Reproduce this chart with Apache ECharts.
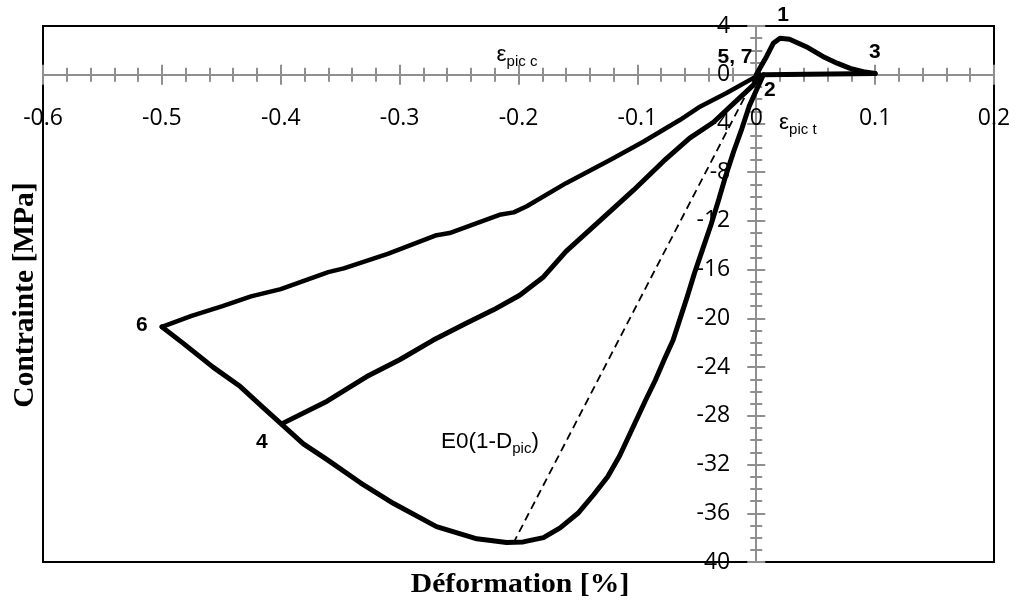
<!DOCTYPE html>
<html><head><meta charset="utf-8">
<script src="https://cdn.jsdelivr.net/npm/echarts@6/dist/echarts.min.js"></script>
<style>html,body{margin:0;padding:0;background:#fff}#c{width:1016px;height:603px}</style>
</head><body><div id="c"></div>
<script>
// Tension branch: origin -> peak (1) -> point 3
const tensionCurve = [[0,0],[0.004,0.7],[0.0087,1.5],[0.0143,2.58],[0.02,2.99],[0.028,2.92],[0.042,2.3],[0.056,1.5],[0.068,0.95],[0.079,0.52],[0.09,0.25],[0.1,0.1]];
// Unloading 3 -> 2 along zero stress
const crackClosing = [[0.1,0.1],[0.1,0],[0.006,0]];
// Compression envelope: 2 -> peak -> 4 -> 6
const compressionEnvelope = [[0.006,0],[0.0,-1.3],[-0.006,-2.6],[-0.012,-4.4],[-0.019,-6.3],[-0.026,-8.4],[-0.032,-10.4],[-0.038,-12.3],[-0.045,-14.3],[-0.052,-16.3],[-0.058,-18.2],[-0.064,-20.0],[-0.070,-21.8],[-0.077,-23.3],[-0.085,-25.1],[-0.093,-26.7],[-0.1035,-28.9],[-0.115,-31.3],[-0.125,-33.0],[-0.137,-34.5],[-0.150,-36.0],[-0.165,-37.2],[-0.179,-38.0],[-0.196,-38.35],[-0.21,-38.4],[-0.235,-38.1],[-0.269,-37.1],[-0.305,-35.2],[-0.333,-33.5],[-0.361,-31.6],[-0.381,-30.3],[-0.398,-28.8],[-0.415,-27.3],[-0.434,-25.6],[-0.457,-24.0],[-0.482,-22.05],[-0.50,-20.7]];
// Unloading 4 -> 5
const unloading4 = [[-0.398,-28.6],[-0.361,-26.8],[-0.328,-24.8],[-0.30,-23.4],[-0.272,-21.8],[-0.244,-20.4],[-0.221,-19.3],[-0.199,-18.1],[-0.179,-16.6],[-0.16,-14.5],[-0.134,-12.2],[-0.1035,-9.5],[-0.078,-7.1],[-0.056,-5.2],[-0.036,-3.9],[-0.019,-2.35],[-0.0025,-0.85],[0.003,0]];
// Unloading 6 -> 7
const unloading6 = [[-0.50,-20.7],[-0.475,-19.8],[-0.449,-19.0],[-0.425,-18.2],[-0.40,-17.6],[-0.36,-16.2],[-0.347,-15.9],[-0.31,-14.7],[-0.27,-13.2],[-0.258,-13.0],[-0.216,-11.5],[-0.204,-11.3],[-0.193,-10.8],[-0.16,-8.9],[-0.123,-7.0],[-0.095,-5.5],[-0.064,-3.7],[-0.047,-2.6],[-0.025,-1.5],[-0.003,-0.3],[0.003,0]];
// Secant modulus E0(1-Dpic)
const secantLine = [[0,0],[-0.203,-38.2]];
// Point labels [x, y, text]
const pointLabels = [[0.0225,4.9,'1'],[0.0998,1.86,'3'],[-0.0179,1.45,'5, 7'],[0.0115,-1.26,'2'],[-0.5168,-20.55,'6'],[-0.4159,-30.15,'4']];
// Text annotations [x, y, rich text]
const textLabels = [[-0.2013,1.62,'{a|ε}{b|pic c}'],[0.035,-3.97,'{a|ε}{b|pic t}'],[-0.224,-30.15,'{a|E0(1-D}{b|pic}{a|)}']];
const xTitle = 'Déformation [%]';
const yTitle = 'Contrainte [MPa]';

const chart = echarts.init(document.getElementById('c'), null, {renderer:'canvas'});
const gray = '#8f8f8f';
const tickFont = {fontFamily:'Open Sans', fontSize:23, color:'#000'};
const xBase = {type:'value', min:-0.6, max:0.2, interval:0.1, splitLine:{show:false}};
const yBase = {type:'value', min:-40, max:4, interval:4, splitLine:{show:false}};
const xTickAxis = Object.assign({}, xBase, {
  axisLine:{onZero:true, onZeroAxisIndex:0, lineStyle:{color:gray, width:2}},
  axisLabel:{show:false},
  minorTick:{show:true, splitNumber:5, length:7, lineStyle:{color:gray, width:2}},
  axisTick:{length:10, lineStyle:{color:gray, width:2}}});
const yTickAxis = Object.assign({}, yBase, {
  axisLine:{onZero:true, onZeroAxisIndex:0, lineStyle:{color:gray, width:2}},
  axisLabel:{show:false},
  minorTick:{show:true, splitNumber:4, length:6, lineStyle:{color:gray, width:2}},
  axisTick:{length:9, lineStyle:{color:gray, width:2}}});
const lineSeries = (data, w) => ({type:'line', data, showSymbol:false, symbol:'none', smooth:false, z:5,
  lineStyle:{color:'#000', width:w, cap:'round', join:'round'}, xAxisIndex:0, yAxisIndex:0, silent:true});

const option = {
  animation:false,
  backgroundColor:'#fff',
  grid:{left:43, right:22, top:26, bottom:41, outerBoundsMode:'none', containLabel:false, show:true, borderColor:'#000', borderWidth:2, backgroundColor:'transparent'},
  xAxis:[
    Object.assign({}, xTickAxis, {position:'bottom'}),
    Object.assign({}, xTickAxis, {position:'top'}),
    Object.assign({}, xBase, {position:'bottom', offset:0, axisLine:{show:false, onZero:false}, axisTick:{show:false},
      axisLabel:Object.assign({margin:32, showMinLabel:true, showMaxLabel:true}, tickFont)})
  ],
  yAxis:[
    Object.assign({}, yTickAxis, {position:'left'}),
    Object.assign({}, yTickAxis, {position:'right'}),
    Object.assign({}, yBase, {position:'left', offset:0, axisLine:{show:false, onZero:false}, axisTick:{show:false},
      axisLabel:Object.assign({margin:26, showMinLabel:true, showMaxLabel:true}, tickFont)})
  ],
  series:[
    lineSeries(tensionCurve, 5),
    lineSeries(crackClosing, 5),
    lineSeries(compressionEnvelope, 5),
    lineSeries(unloading4, 5),
    lineSeries(unloading6, 4.5),
    {type:'line', data:secantLine, showSymbol:false, symbol:'none', z:4, silent:true,
      lineStyle:{color:'#000', width:1.8, type:[8,5]}},
    {type:'scatter', clip:false, symbolSize:0, silent:true, z:10, itemStyle:{color:'#000', opacity:1},
      data:pointLabels.map(p => ({value:[p[0],p[1]], name:p[2]})),
      label:{show:true, position:'inside', formatter:'{b}', fontFamily:'Liberation Sans', fontWeight:'bold', fontSize:21,
        color:'#000', opacity:1, textBorderWidth:0, textBorderColor:'transparent'}},
    {type:'scatter', clip:false, symbolSize:0, silent:true, z:10, itemStyle:{color:'#000', opacity:1},
      data:textLabels.map(p => ({value:[p[0],p[1]], name:p[2]})),
      label:{show:true, position:'inside', formatter:'{b}', color:'#000', opacity:1, textBorderWidth:0, textBorderColor:'transparent',
        rich:{a:{fontFamily:'Liberation Sans', fontSize:22.5, lineHeight:28, color:'#000', textBorderWidth:0},
              b:{fontFamily:'Liberation Sans', fontSize:15, verticalAlign:'bottom', color:'#000', textBorderWidth:0}}}}
  ],
  graphic:[
    {type:'text', x:520, y:585, scaleX:1.1, style:{text:xTitle, font:'bold 27px "Liberation Serif"', fill:'#000', align:'center', verticalAlign:'middle'}},
    {type:'text', x:25, y:295, rotation:Math.PI/2, style:{text:yTitle, font:'bold 29.5px "Liberation Serif"', fill:'#000', align:'center', verticalAlign:'middle'}}
  ]
};
chart.setOption(option);
// Move the label-only axes onto the zero lines (axes cross at the origin)
const zeroY = chart.convertToPixel({yAxisIndex:0}, 0);
const zeroX = chart.convertToPixel({xAxisIndex:0}, 0);
const gridRect = chart.getModel().getComponent('grid', 0).coordinateSystem.getRect();
chart.setOption({
  xAxis:[{}, {}, {offset:-(gridRect.y + gridRect.height - zeroY)}],
  yAxis:[{}, {}, {offset:-(zeroX - gridRect.x)}]
});
</script></body></html>
